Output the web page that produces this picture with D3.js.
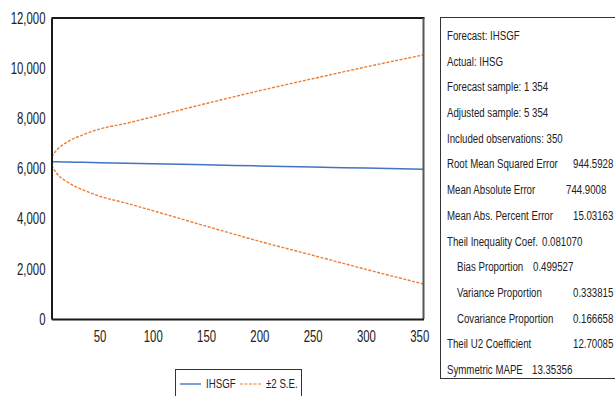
<!DOCTYPE html>
<html>
<head>
<meta charset="utf-8">
<script src="https://cdn.jsdelivr.net/npm/d3@7"></script>
<style>
  body { margin: 0; background: #fff; }
  svg text { font-family: "Liberation Sans", Arial, sans-serif; fill: #222; }
</style>
</head>
<body>
<svg id="chart" width="615" height="396"></svg>
<script>
const obs      = [5, 10, 20, 35, 50, 75, 100, 150, 200, 250, 300, 354];
const forecast = [6272, 6268, 6259, 6246, 6233, 6211, 6189, 6146, 6102, 6059, 6015, 5968];
const upperSE  = [6470, 6740, 7060, 7350, 7570, 7800, 8060, 8590, 9100, 9580, 10050, 10530];
const lowerSE  = [6130, 5800, 5460, 5140, 4900, 4620, 4320, 3700, 3100, 2540, 1980, 1395];

const yTicks = [0, 2000, 4000, 6000, 8000, 10000, 12000];
const xTicks = [50, 100, 150, 200, 250, 300, 350];

const statLines = [
    {label: "Forecast: IHSGF", value: ""},
    {label: "Actual: IHSG", value: ""},
    {label: "Forecast sample: 1 354", value: ""},
    {label: "Adjusted sample: 5 354", value: ""},
    {label: "Included observations: 350", value: ""},
    {label: "Root Mean Squared Error", value: "944.5928", vx: 573},
    {label: "Mean Absolute Error", value: "744.9008", vx: 566},
    {label: "Mean Abs. Percent Error", value: "15.03163", vx: 573},
    {label: "Theil Inequality Coef.", value: "0.081070", vx: 542},
    {label: "Bias Proportion", value: "0.499527", vx: 533, indent: true},
    {label: "Variance Proportion", value: "0.333815", vx: 573, indent: true},
    {label: "Covariance Proportion", value: "0.166658", vx: 573, indent: true},
    {label: "Theil U2 Coefficient", value: "12.70085", vx: 573},
    {label: "Symmetric MAPE", value: "13.35356", vx: 532}
];

const svg = d3.select("#chart");
const plot = {left: 51.5, right: 423.5, top: 18, bottom: 319};
const squeeze = 0.775;    // text in the picture is condensed
const axisSqueeze = 0.69;

const x = d3.scaleLinear().domain([5, 354]).range([plot.left, plot.right]);
const y = d3.scaleLinear().domain([0, 12000]).range([plot.bottom, plot.top]);

const line = (vals) => d3.line()
    .x((d, i) => x(obs[i]))
    .y(d => y(d))
    .curve(d3.curveMonotoneX)(vals);

function narrowText(g, px, py, str, size) {
    return g.append("text")
        .attr("transform", `translate(${px},${py}) scale(${squeeze},1)`)
        .attr("font-size", size)
        .text(str);
}

// series
[upperSE, lowerSE].forEach(vals => {
    svg.append("path")
        .attr("d", line(vals))
        .attr("fill", "none")
        .attr("stroke", "#ED7D31")
        .attr("stroke-width", 1.4)
        .attr("stroke-dasharray", "3,1.5");
});

svg.append("path")
    .attr("d", line(forecast))
    .attr("fill", "none")
    .attr("stroke", "#4472C4")
    .attr("stroke-width", 1.5);

// frame
svg.append("line").attr("x1", plot.left).attr("x2", plot.right + 1).attr("y1", plot.top).attr("y2", plot.top)
    .attr("stroke", "#1a1a1a").attr("stroke-width", 2);
svg.append("line").attr("x1", plot.right).attr("x2", plot.right).attr("y1", plot.top).attr("y2", plot.bottom)
    .attr("stroke", "#555").attr("stroke-width", 2);

const yAxis = svg.append("g")
    .attr("transform", `translate(${plot.left},0)`)
    .call(d3.axisLeft(y).tickValues(yTicks).tickSize(0).tickPadding(6).tickFormat(d3.format(",")));
const xAxis = svg.append("g")
    .attr("transform", `translate(0,${plot.bottom})`)
    .call(d3.axisBottom(x).tickValues(xTicks).tickSize(0).tickPadding(11));

[yAxis, xAxis].forEach(g => {
    g.select(".domain").attr("stroke", "#1a1a1a").attr("stroke-width", 2);
    g.selectAll("text")
        .attr("font-size", 16.5)
        .attr("fill", "#222")
        .attr("transform", `scale(${axisSqueeze},1)`);
});
// the squeeze also scales the x position of the labels, so put them back
yAxis.selectAll("text").attr("x", -6 / axisSqueeze);

// legend
const legend = svg.append("g");
legend.append("rect")
    .attr("x", 175.5).attr("y", 369.5).attr("width", 126).attr("height", 40)
    .attr("fill", "#fff").attr("stroke", "#333").attr("stroke-width", 1);
legend.append("line").attr("x1", 180).attr("x2", 201).attr("y1", 384).attr("y2", 384)
    .attr("stroke", "#7F9FD4").attr("stroke-width", 2);
narrowText(legend, 206, 388, "IHSGF", 12.5);
legend.append("line").attr("x1", 240).attr("x2", 262).attr("y1", 384).attr("y2", 384)
    .attr("stroke", "#F0A574").attr("stroke-width", 1.5).attr("stroke-dasharray", "3,1.5");
narrowText(legend, 266, 388, "±2 S.E.", 12.5);

// statistics box
const stats = svg.append("g");
stats.append("rect")
    .attr("x", 440.5).attr("y", 17.5).attr("width", 180).attr("height", 361)
    .attr("fill", "#fff").attr("stroke", "#333").attr("stroke-width", 1);

const rowY = d3.scaleLinear().domain([0, statLines.length - 1]).range([40, 374]);
statLines.forEach((d, i) => {
    narrowText(stats, d.indent ? 457 : 447, rowY(i), d.label, 12.5);
    if (d.value) narrowText(stats, d.vx, rowY(i), d.value, 12.5);
});
</script>
</body>
</html>
